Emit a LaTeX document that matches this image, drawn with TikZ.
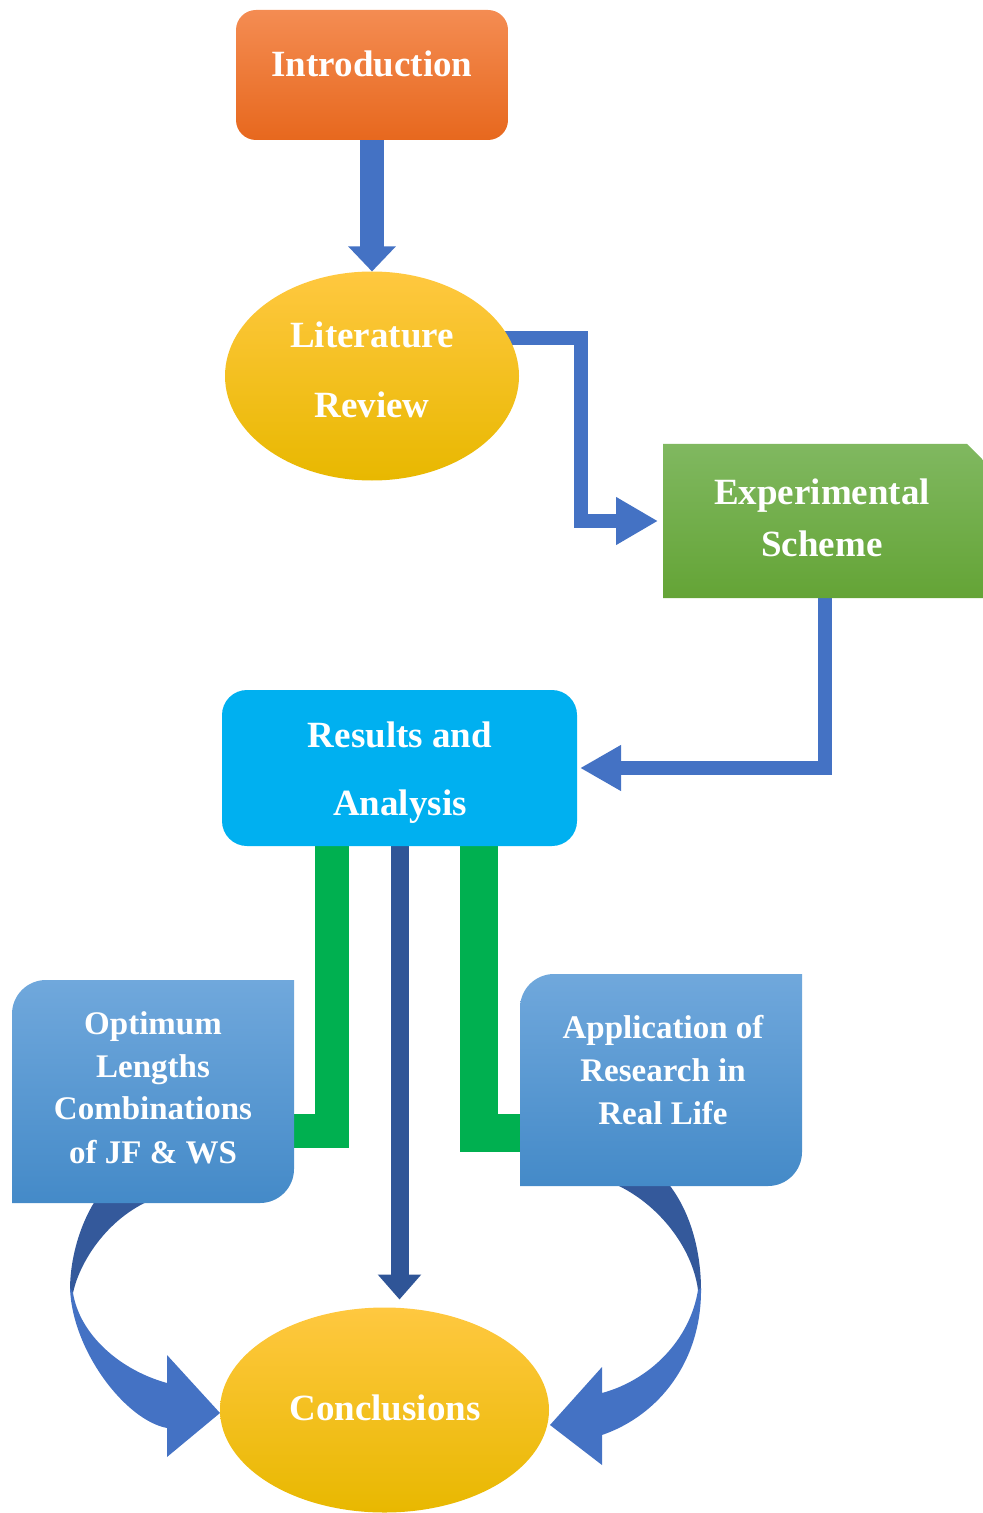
\documentclass[tikz,border=0pt]{standalone}
\usepackage{fontspec}
\setmainfont{Liberation Serif}
\usetikzlibrary{arrows.meta,shapes.geometric}
\pgfdeclarelayer{bg}
\pgfsetlayers{bg,main}
\definecolor{arrowblue}{RGB}{68,114,196}
\definecolor{darkblue}{RGB}{47,85,151}
\definecolor{curvedark}{RGB}{52,89,155}
\definecolor{conngreen}{RGB}{0,176,80}
\definecolor{cyanbox}{RGB}{0,176,240}
\definecolor{orangetop}{RGB}{244,140,82}
\definecolor{orangebot}{RGB}{231,104,30}
\definecolor{yellowtop}{RGB}{255,200,64}
\definecolor{yellowmid}{RGB}{255,194,8}
\definecolor{yellowbot}{RGB}{232,184,0}
\definecolor{greentop}{RGB}{128,184,96}
\definecolor{greenbot}{RGB}{100,164,54}
\definecolor{bluetop}{RGB}{112,168,220}
\definecolor{bluebot}{RGB}{68,138,200}
\begin{document}
\begin{tikzpicture}[x=0.5pt,y=-0.5pt,
  lbl/.style={text=white,font=\bfseries\fontsize{18.5}{20}\selectfont,anchor=base,inner sep=0pt},
  slbl/.style={lbl,font=\bfseries\fontsize{16.5}{18}\selectfont},
  anchorbox/.style={rectangle,inner sep=0pt,outer sep=0pt,draw=none},
  yellowell/.style={ellipse,inner sep=0pt,outer sep=0pt,top color=yellowtop,middle color=yellowmid,bottom color=yellowbot},
  flowarrow/.style={arrowblue,line join=miter},
  greenconn/.style={conngreen,line join=miter}]
\useasboundingbox (0,0) rectangle (983,1513);

% ---------- nodes ----------
\node[anchorbox,rounded corners=10pt,top color=orangetop,bottom color=orangebot,
      minimum width=136pt,minimum height=65pt] (intro) at (372,75) {};
\node[lbl] (introT) at (372,77) {Introduction};

\node[yellowell,minimum width=147pt,minimum height=104.5pt] (lit) at (372,376) {};
\node[lbl] (litT1) at (372,348) {Literature};
\node[lbl] (litT2) at (372,418) {Review};

\node[anchorbox,minimum width=160pt,minimum height=77pt] (exp) at (823,521) {};
\shade[top color=greentop,bottom color=greenbot]
  (663,444) -- (967,444) -- (983,460) -- (983,598) -- (663,598) -- cycle;
\node[lbl] (expT1) at (822,504) {Experimental};
\node[lbl] (expT2) at (822,556) {Scheme};

\node[anchorbox,rounded corners=12.5pt,fill=cyanbox,
      minimum width=177.5pt,minimum height=78pt] (res) at (399.5,768) {};
\node[lbl] (resT1) at (400,747) {Results and};
\node[lbl] (resT2) at (400,815) {Analysis};

\node[anchorbox,minimum width=141pt,minimum height=111.5pt] (opt) at (153,1091.5) {};
\shade[top color=bluetop,bottom color=bluebot]
  (12,1203) -- (12,1014) .. controls (12,995.2) and (27.2,980) .. (46,980)
  -- (294,980) -- (294,1169) .. controls (294,1187.8) and (278.8,1203) .. (260,1203) -- cycle;
\node[slbl] (optT1) at (153,1034) {Optimum};
\node[slbl] (optT2) at (153,1077) {Lengths};
\node[slbl] (optT3) at (153,1119) {Combinations};
\node[slbl] (optT4) at (153,1163) {of JF \& WS};

\node[anchorbox,minimum width=141pt,minimum height=106pt] (app) at (661,1080) {};
\shade[top color=bluetop,bottom color=bluebot]
  (520,1186) -- (520,1008) .. controls (520,989.2) and (535.2,974) .. (554,974)
  -- (802,974) -- (802,1152) .. controls (802,1170.8) and (786.8,1186) .. (768,1186) -- cycle;
\node[slbl] (appT1) at (663,1038) {Application of};
\node[slbl] (appT2) at (663,1081) {Research in};
\node[slbl] (appT3) at (663,1124) {Real Life};

\node[yellowell,minimum width=164.5pt,minimum height=102.5pt] (concl) at (384.5,1410) {};
\node[lbl] (conclT) at (385,1420) {Conclusions};

% ---------- connectors ----------
\begin{pgfonlayer}{bg}
\draw[flowarrow,line width=12pt,-{Triangle[width=23pt,length=12.5pt]}]
  (intro.south) -- (lit.north);
\draw[flowarrow,line width=7pt,-{Triangle[width=22.5pt,length=21pt]},shorten >=2.5pt]
  (lit.center |- 0,338) -- (581,338) |- (exp.west);
\draw[flowarrow,line width=7pt,-{Triangle[width=21.5pt,length=20.5pt]},shorten >=1.5pt]
  (exp.south -| 825,0) |- (res.east);
\draw[darkblue,line width=9pt,-{Triangle[width=21pt,length=12.5pt]},shorten >=4pt]
  (res.south) -- (res.south |- concl.north);
\draw[greenconn,line width=17pt,shorten <=-4pt,shorten >=-4pt]
  (res.south -| 332,0) |- (opt.east |- 0,1131);
\draw[greenconn,line width=19pt,shorten <=-4pt,shorten >=-4pt]
  (res.south -| 479,0) |- (app.west |- 0,1133);
% curved arrow from the left box
\fill[curvedark] (97,1198) .. controls (82,1220) and (70,1255) .. (70,1290)
  -- (73,1293) .. controls (80,1260) and (110,1215) .. (156,1198) -- cycle;
\fill[arrowblue] (70,1288) .. controls (72,1350) and (125,1420) .. (167,1428)
  -- (167,1457) -- (220,1413) -- (167,1355) -- (167,1383)
  .. controls (120,1370) and (80,1335) .. (73,1293) -- cycle;
% curved arrow from the right box
\fill[curvedark] (610,1182) -- (667,1182) .. controls (690,1210) and (701,1250) .. (701,1290)
  -- (698,1290) .. controls (692,1245) and (655,1200) .. (610,1182) -- cycle;
\fill[arrowblue] (701,1288) .. controls (702,1360) and (660,1415) .. (602,1435)
  -- (602,1465) -- (550,1425) -- (602,1367) -- (602,1393)
  .. controls (650,1380) and (690,1340) .. (698,1290) -- cycle;
\end{pgfonlayer}
\end{tikzpicture}
\end{document}
